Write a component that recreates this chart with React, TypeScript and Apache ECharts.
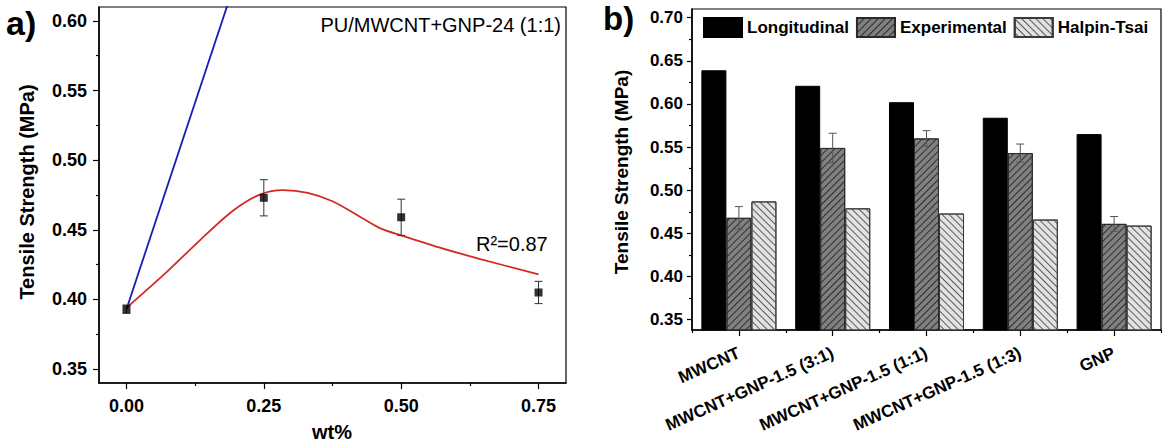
import React, { useEffect, useRef } from 'react';
import * as echarts from 'echarts';

const FONT = '"Liberation Sans", Arial, Helvetica, sans-serif';

// ---- Panel a: tensile strength vs filler loading ----
const wtPercent = [0, 0.25, 0.5, 0.75];
const strengthMeasured = [0.393, 0.473, 0.459, 0.405];
const strengthError = [0.003, 0.013, 0.013, 0.008];
// fitted curve through the measurements (x = wt%, y = MPa)
const fitCurve: number[][] = [
  [0, 0.394], [0.074, 0.42], [0.135, 0.443], [0.195, 0.464], [0.244, 0.4755],
  [0.285, 0.4785], [0.33, 0.4765], [0.375, 0.4705], [0.418, 0.461], [0.462, 0.451],
  [0.5, 0.446], [0.572, 0.437], [0.644, 0.429], [0.75, 0.418],
];
// longitudinal prediction line
const longitudinalLine: number[][] = [[0, 0.393], [0.25, 0.69]];
const xTicksA = [0, 0.25, 0.5, 0.75];
const xMinorA = [0.125, 0.375, 0.625];
const yTicksA = [0.35, 0.4, 0.45, 0.5, 0.55, 0.6];
const yMinorA = [0.375, 0.425, 0.475, 0.525, 0.575];

// ---- Panel b: model comparison ----
const fillers = ['MWCNT', 'MWCNT+GNP-1.5 (3:1)', 'MWCNT+GNP-1.5 (1:1)', 'MWCNT+GNP-1.5 (1:3)', 'GNP'];
const longitudinal = [0.639, 0.621, 0.602, 0.584, 0.565];
const experimental = [0.468, 0.549, 0.56, 0.543, 0.461];
const experimentalError = [0.013, 0.017, 0.009, 0.0105, 0.0085];
const halpinTsai = [0.487, 0.479, 0.473, 0.466, 0.459];
const yTicksB = [0.35, 0.4, 0.45, 0.5, 0.55, 0.6, 0.65, 0.7];
const yMinorB = [0.375, 0.425, 0.475, 0.525, 0.575, 0.625, 0.675];

const tickLabel = (size: number) => ({
  color: '#000',
  fontFamily: FONT,
  fontWeight: 'bold' as const,
  fontSize: size,
});

const fmt2 = (v: number) => v.toFixed(2);

function errorBarRenderer(capHalf: number, color: string) {
  return (_params: any, api: any) => {
    const x = api.value(0);
    const y = api.value(1);
    const e = api.value(2);
    const hi = api.coord([x, y + e]);
    const lo = api.coord([x, y - e]);
    const style = { stroke: color, lineWidth: 1 };
    return {
      type: 'group',
      children: [
        { type: 'line', shape: { x1: hi[0], y1: hi[1], x2: lo[0], y2: lo[1] }, style },
        { type: 'line', shape: { x1: hi[0] - capHalf, y1: hi[1], x2: hi[0] + capHalf, y2: hi[1] }, style },
        { type: 'line', shape: { x1: lo[0] - capHalf, y1: lo[1], x2: lo[0] + capHalf, y2: lo[1] }, style },
      ],
    };
  };
}

function buildOption(): echarts.EChartsOption {
  const axisLine = { show: true, onZero: false, lineStyle: { color: '#000', width: 1.5 } };
  const majorTick = (vals: number[], len: number) => ({
    show: true,
    inside: false,
    length: len,
    customValues: vals,
    lineStyle: { color: '#000', width: 1.2 },
  });
  const minorAxisCommon = {
    axisLine: { show: false, onZero: false },
    axisLabel: { show: false },
    splitLine: { show: false },
  };

  return {
    animation: false,
    backgroundColor: '#fff',
    textStyle: { fontFamily: FONT },
    grid: [
      { left: 99, top: 7, width: 467, height: 376, show: true, borderColor: '#000', borderWidth: 1.2, backgroundColor: 'transparent' },
      { left: 692, top: 9, width: 469, height: 321, show: true, borderColor: '#000', borderWidth: 1.2, backgroundColor: 'transparent' },
    ],
    legend: {
      data: ['Longitudinal', 'Experimental', 'Halpin-Tsai'],
      left: 703,
      top: 17,
      itemWidth: 38,
      itemHeight: 19,
      itemGap: 7,
      icon: 'rect',
      padding: 0,
      textStyle: { color: '#000', fontFamily: FONT, fontWeight: 'bold', fontSize: 17 },
    },
    xAxis: [
      {
        type: 'value', gridIndex: 0, min: -0.05, max: 0.8,
        axisLine, axisTick: majorTick(xTicksA, 6),
        axisLabel: { ...tickLabel(18), customValues: xTicksA, formatter: fmt2, margin: 14 },
        splitLine: { show: false },
      },
      {
        type: 'value', gridIndex: 0, min: -0.05, max: 0.8, position: 'bottom',
        ...minorAxisCommon,
        axisTick: { show: true, length: 3, customValues: xMinorA, lineStyle: { color: '#000', width: 1.2 } },
      },
      {
        type: 'category', gridIndex: 1, data: fillers,
        axisLine,
        axisTick: { show: true, alignWithLabel: true, length: 6, lineStyle: { color: '#000', width: 1.2 } },
        axisLabel: { ...tickLabel(17), rotate: 24, margin: 22, interval: 0 },
        splitLine: { show: false },
      },
      {
        type: 'category', gridIndex: 1, data: fillers, position: 'bottom',
        ...minorAxisCommon,
        axisTick: { show: true, alignWithLabel: false, interval: 0, length: 3, lineStyle: { color: '#000', width: 1.2 } },
      },
    ],
    yAxis: [
      {
        type: 'value', gridIndex: 0, min: 0.34, max: 0.61,
        axisLine, axisTick: majorTick(yTicksA, 6),
        axisLabel: { ...tickLabel(18), customValues: yTicksA, formatter: fmt2, margin: 12 },
        splitLine: { show: false },
      },
      {
        type: 'value', gridIndex: 0, min: 0.34, max: 0.61, position: 'left',
        ...minorAxisCommon,
        axisTick: { show: true, length: 3, customValues: yMinorA, lineStyle: { color: '#000', width: 1.2 } },
      },
      {
        type: 'value', gridIndex: 1, min: 0.338, max: 0.71,
        axisLine, axisTick: majorTick(yTicksB, 5),
        axisLabel: { ...tickLabel(17), customValues: yTicksB, formatter: fmt2, margin: 9 },
        splitLine: { show: false },
      },
      {
        type: 'value', gridIndex: 1, min: 0.338, max: 0.71, position: 'left',
        ...minorAxisCommon,
        axisTick: { show: true, length: 3, customValues: yMinorB, lineStyle: { color: '#000', width: 1.2 } },
      },
    ],
    series: [
      {
        name: 'fit', type: 'line', xAxisIndex: 0, yAxisIndex: 0,
        data: fitCurve, smooth: 0.3, showSymbol: false, symbol: 'none',
        lineStyle: { color: '#d42a24', width: 1.8 }, z: 2,
      },
      {
        name: 'longitudinal-line', type: 'line', xAxisIndex: 0, yAxisIndex: 0,
        data: longitudinalLine, showSymbol: false, symbol: 'none', clip: true,
        lineStyle: { color: '#1b1bb5', width: 1.8 }, z: 2,
      },
      {
        name: 'measured-error', type: 'custom', xAxisIndex: 0, yAxisIndex: 0,
        data: wtPercent.map((x, i) => [x, strengthMeasured[i], strengthError[i]]),
        renderItem: errorBarRenderer(4, '#333') as any, z: 3,
      },
      {
        name: 'measured', type: 'scatter', xAxisIndex: 0, yAxisIndex: 0,
        data: wtPercent.map((x, i) => [x, strengthMeasured[i]]),
        symbol: 'rect', symbolSize: 8, itemStyle: { color: '#000' }, z: 4,
      },
      {
        name: 'Longitudinal', type: 'bar', xAxisIndex: 2, yAxisIndex: 2,
        data: longitudinal, barGap: '0%', barCategoryGap: '20%',
        itemStyle: { color: '#000', borderColor: '#000', borderWidth: 1 },
      },
      {
        name: 'Experimental', type: 'bar', xAxisIndex: 2, yAxisIndex: 2,
        data: experimental, barGap: '0%', barCategoryGap: '20%',
        itemStyle: {
          color: '#808080', borderColor: '#2a2a2a', borderWidth: 1,
          decal: { symbol: 'rect', symbolSize: 1, color: '#2e2e2e', dashArrayX: [1, 0], dashArrayY: [1, 3.3], rotation: -Math.PI / 4 },
        },
      },
      {
        name: 'Halpin-Tsai', type: 'bar', xAxisIndex: 2, yAxisIndex: 2,
        data: halpinTsai, barGap: '0%', barCategoryGap: '20%',
        itemStyle: {
          color: '#e2e2e2', borderColor: '#3a3a3a', borderWidth: 1,
          decal: { symbol: 'rect', symbolSize: 1, color: '#5a5a5a', dashArrayX: [1, 0], dashArrayY: [1, 3.3], rotation: Math.PI / 4 },
        },
      },
      {
        name: 'experimental-error', type: 'custom', xAxisIndex: 2, yAxisIndex: 2,
        data: experimental.map((v, i) => [i, v, experimentalError[i]]),
        renderItem: errorBarRenderer(4, '#555') as any, z: 5,
      },
    ],
    graphic: [
      { type: 'text', left: 6, top: 6, style: { text: 'a)', font: `bold 34px ${FONT}`, fill: '#000' } },
      { type: 'text', left: 603, top: 2, style: { text: 'b)', font: `bold 33px ${FONT}`, fill: '#000' } },
      {
        type: 'text', x: 561, y: 25,
        style: { text: 'PU/MWCNT+GNP-24 (1:1)', font: `20px ${FONT}`, fill: '#000', align: 'right', verticalAlign: 'middle' },
      },
      {
        type: 'text', x: 476, y: 244,
        style: { text: 'R²=0.87', font: `20px ${FONT}`, fill: '#000', align: 'left', verticalAlign: 'middle' },
      },
      {
        type: 'text', x: 27, y: 192, rotation: Math.PI / 2,
        style: { text: 'Tensile Strength (MPa)', font: `bold 20px ${FONT}`, fill: '#000', align: 'center', verticalAlign: 'middle' },
      },
      {
        type: 'text', x: 332, y: 432,
        style: { text: 'wt%', font: `bold 20px ${FONT}`, fill: '#000', align: 'center', verticalAlign: 'middle' },
      },
      {
        type: 'text', x: 621, y: 172, rotation: Math.PI / 2,
        style: { text: 'Tensile Strength (MPa)', font: `bold 19px ${FONT}`, fill: '#000', align: 'center', verticalAlign: 'middle' },
      },
    ],
  } as any;
}

export default function App() {
  const ref = useRef<HTMLDivElement>(null);
  useEffect(() => {
    document.body.style.margin = '0';
    const chart = echarts.init(ref.current!, null, { renderer: 'svg' });
    chart.setOption(buildOption());
    return () => chart.dispose();
  }, []);
  return <div ref={ref} style={{ width: 1162, height: 444, background: '#fff' }} />;
}
